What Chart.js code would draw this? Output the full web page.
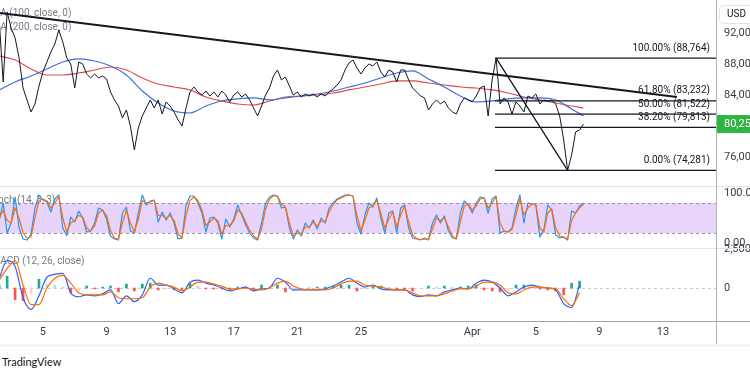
<!DOCTYPE html>
<html><head><meta charset="utf-8">
<script src="https://cdn.jsdelivr.net/npm/chart.js@4.4.1/dist/chart.umd.min.js"></script>
<style>
html,body{margin:0;padding:0;background:#fff;width:750px;height:375px;overflow:hidden}
canvas{position:absolute;left:0}
#c1{top:0}#c2{top:186px}#c3{top:240px}
#sep{position:absolute;left:0;top:344px;width:750px;height:3px;background:#f0f3fa}
#tv{position:absolute;left:2px;top:355px;font:11px Lato,sans-serif;color:#131722}
</style></head>
<body>
<canvas id="c1" width="750" height="186"></canvas>
<canvas id="c2" width="750" height="70"></canvas>
<canvas id="c3" width="750" height="104"></canvas>
<div id="sep"></div><div id="tv">TradingView</div>
<script>
// ---- data (day values: day of March, Apr 1 = 32) ----
const closeStartDay = 2.25, closeStepDays = 0.25;
const closes = [93680,85680,94710,92650,91360,88780,84910,83360,81810,82840,
85160,86970,88260,89550,90580,92390,90840,88780,88000,84910,
88260,88000,86710,86200,86710,86200,86450,86070,84390,83360,
82580,81040,82070,80000,76910,79750,81290,82330,83360,82330,
83360,81550,83100,82580,81810,80780,80000,82330,84390,85030,
84390,84000,84520,83870,84390,83740,84520,84000,83100,84000,
84390,83740,84130,83360,82330,81290,82580,84000,84910,86450,
87230,85940,86320,85160,84000,84390,83740,84130,83870,84130,
83740,84130,83870,84390,84780,85290,85940,87230,88130,88520,
87490,86710,87490,88000,87740,88260,86970,86320,87230,86970,
85680,87230,87230,85940,84910,84390,83870,83620,82070,82840,
83360,82840,83230,82330,81810,81550,82840,83620,83360,83100,
83870,84910,85160,81290,85940,88760,82840,83620,83100,81550,
83100,82580,81810,83870,83620,84130,82840,83360,83230,83360,
82840,81290,78200,74280,76260,79230,79490,80250];
const stochK = [45,80,20,40,92,30,8,6,18,70,96,86,82,62,88,96,30,15,52,42,
64,50,22,24,40,70,66,48,14,8,6,60,72,24,20,60,96,76,84,86,
42,62,46,60,40,8,10,76,94,94,80,60,22,50,52,40,8,48,32,48,
76,56,36,20,10,6,40,80,92,96,94,70,72,30,8,26,14,40,30,46,
28,50,40,70,80,88,92,96,96,94,40,18,56,80,72,90,50,20,60,64,
20,70,76,30,10,8,6,10,6,40,56,40,54,24,10,8,60,84,76,60,
80,92,90,60,88,94,20,24,22,30,70,96,40,80,78,76,12,26,76,66,
16,10,12,6,64,60,74,80];
const stochD = [50,65,45,40,70,50,20,10,12,50,85,88,84,70,80,92,50,22,40,45,
55,52,30,24,34,60,66,55,25,10,8,40,65,40,22,48,85,80,82,85,
55,55,50,55,45,18,10,55,85,92,85,66,35,42,50,45,18,35,35,44,
66,60,42,26,14,8,28,68,88,94,94,78,72,40,14,20,18,32,32,42,
34,44,42,62,76,86,90,94,96,94,55,25,45,70,74,85,60,30,48,62,
32,56,74,42,16,9,7,8,7,28,50,45,50,32,14,9,42,74,78,66,
74,88,90,70,80,92,40,24,22,27,56,88,56,70,78,77,30,22,60,68,
30,14,12,8,45,60,70,78];
const maStartDay = 2.25, maStepDays = 1, maEndDay = 39.0;
const ma100 = [84650,85680,86450,87360,88260,88650,88390,87740,86580,84520,
82970,81940,81680,82580,83230,83490,83620,83360,83620,83870,
84130,84520,85030,85550,86200,86840,87100,86070,85030,83870,
83100,83230,83490,83620,83620,83360,82200,81290];
const ma200 = [89030,88520,87360,86580,86580,86840,87230,87610,87230,86200,
85420,85030,84650,83740,83230,82840,82710,83230,83740,83870,
84000,84260,84650,85030,85420,85810,85810,85550,85290,85030,
84900,84650,84260,83740,83360,82970,82580,82320];
const macdStartDay = 2.25, macdStepDays = 0.5;
const macdLine = [625,1750,1375,-625,-1375,-500,690,875,940,-310,
-560,-440,-500,-375,-125,-1000,-500,-875,-440,625,
190,190,-60,-310,375,500,310,190,0,-190,
-60,60,-190,-60,0,625,375,-125,-125,-125,
-125,-60,125,375,625,310,60,190,-60,-125,
-125,-125,-440,-560,-440,-500,-250,-125,0,-60,
310,500,375,0,-500,-250,60,190,60,0,
-125,-1000,-1250,190];
const signalLine = [500,1250,1750,190,-1060,-1060,0,625,810,310,
-310,-440,-440,-440,-250,-625,-690,-690,-625,60,
310,190,60,-190,60,375,375,250,125,-60,
-60,0,-60,-125,0,310,440,125,-60,-125,
-125,-125,0,250,440,440,190,125,60,-60,
-125,-125,-310,-500,-500,-500,-375,-190,-60,-60,
125,375,375,190,-310,-375,-125,60,60,0,
-60,-690,-1125,-310];
const macdHist = [190,750,-750,-810,-375,560,250,190,60,-310,
-190,125,-60,60,125,-250,250,-190,250,310,
-125,-60,-125,-125,310,125,-60,-60,-60,-125,
60,60,-125,190,125,190,-250,-190,-60,0,
60,60,125,190,190,-190,-60,60,125,60,
-60,-125,-190,-60,125,60,125,60,60,125,
190,-125,-190,-250,-190,190,190,60,-60,-125,
-190,-440,310,440];
const fibStartDay = 33.43;
const fibLevels = [88764, 83232, 81522, 79813, 74281];
const fibRatios = ['100.00%', '61.80%', '50.00%', '38.20%', '0.00%'];
const fibDiagDays = [33.5, 38.0], fibDiagPrices = [88764, 74281];
const trendDays = [2.3, 44.87], trendPrices = [94580, 83740];
const lastPrice = 80250;
const priceTicks = [76000, 80000, 84000, 88000, 92000];
const stochTicks = [0, 100];
const macdTicks = [0, 2500];
const stochBand = [20, 80];
const xTickDays = [5, 9, 13, 17, 21, 25, 32, 36, 40, 44];
const xTickLabels = ['5', '9', '13', '17', '21', '25', 'Apr', '5', '9', '13'];
const maLegend = ['MA (100, close, 0)', 'MA (200, close, 0)'];
const stochLegend = 'Stoch (14, 3, 3)';
const macdLegend = 'MACD (12, 26, close)';

// ---- helpers ----
const X_MIN = 2.3, X_MAX = 47.33;
const FONT = 'Roboto';
const series = (arr, start, step) => arr.map((v, i) => ({x: start + i * step, y: v}));
const maSeries = arr => arr.map((v, k) => ({x: k < arr.length - 1 ? maStartDay + k * maStepDays : maEndDay, y: v}));
const fitY = s => { s.width = 34; s.paddingTop = 0; s.paddingBottom = 0; };
const yAxis = (min, max, ticks, cb) => ({
  position: 'right', min, max, afterFit: fitY,
  afterBuildTicks: s => { s.ticks = ticks.map(v => ({value: v})); },
  grid: {display: false, drawTicks: false}, border: {display: false},
  ticks: {padding: 8, autoSkip: false, font: {family: FONT, size: 11}, color: '#363a45', callback: cb}
});
const base = {responsive: false, animation: false, devicePixelRatio: 1,
  plugins: {legend: {display: false}, tooltip: {enabled: false}},
  elements: {point: {radius: 0}, line: {borderJoinStyle: 'round', tension: 0}}};
const fmt = v => Number(v).toLocaleString('en-US');
function vline(c, a, h, y0) { c.strokeStyle = '#b2b5be'; c.lineWidth = 1; c.beginPath(); c.moveTo(a.right + 0.5, y0); c.lineTo(a.right + 0.5, h); c.stroke(); }
function hline(c, y, col, w) { c.strokeStyle = col; c.lineWidth = 1; c.beginPath(); c.moveTo(0, y); c.lineTo(w, y); c.stroke(); }

// ---- price chart ----
const fibDatasets = fibLevels.map(lv => ({data: [{x: fibStartDay, y: lv}, {x: X_MAX, y: lv}], borderColor: '#131722', borderWidth: 1.2, order: 0}));
new Chart(document.getElementById('c1'), {
  type: 'line',
  data: {datasets: [
    {data: trendDays.map((d, i) => ({x: d, y: trendPrices[i]})), borderColor: '#131722', borderWidth: 2, order: 0},
    {data: fibDiagDays.map((d, i) => ({x: d, y: fibDiagPrices[i]})), borderColor: '#131722', borderWidth: 1.3, order: 0},
    ...fibDatasets,
    {data: series(closes, closeStartDay, closeStepDays), borderColor: '#131722', borderWidth: 1, order: 1},
    {data: maSeries(ma100), borderColor: '#3f6fd8', borderWidth: 1.2, cubicInterpolationMode: 'monotone', order: 2},
    {data: maSeries(ma200), borderColor: '#e04a4f', borderWidth: 1.2, cubicInterpolationMode: 'monotone', order: 3}
  ]},
  options: {...base, layout: {padding: 0},
    scales: {x: {type: 'linear', min: X_MIN, max: X_MAX, display: false, offset: false},
             y: yAxis(72258, 96258, priceTicks, v => fmt(v))}},
  plugins: [{id: 'pp',
    beforeDatasetsDraw(ch) { const c = ch.ctx; c.save(); c.font = '10px ' + FONT; c.fillStyle = '#787b86'; c.textBaseline = 'middle';
      c.fillText(maLegend[0], -8.5, 13); c.fillText(maLegend[1], -8.5, 27); c.restore(); },
    afterDatasetsDraw(ch) { const c = ch.ctx, y = ch.scales.y, a = ch.chartArea; c.save();
      c.font = '10px ' + FONT; c.fillStyle = '#131722'; c.textAlign = 'right'; c.textBaseline = 'middle';
      fibLevels.forEach((lv, k) => c.fillText(fibRatios[k] + ' (' + fmt(lv) + ')', a.right - 6, y.getPixelForValue(lv) - 10));
      c.restore(); },
    afterDraw(ch) { const c = ch.ctx, y = ch.scales.y, a = ch.chartArea; c.save();
      vline(c, a, ch.height, 0);
      const py = y.getPixelForValue(lastPrice);
      c.fillStyle = '#2fb344'; c.fillRect(a.right + 1, py - 9, 40, 18);
      c.fillStyle = '#fff'; c.font = '11px ' + FONT; c.textBaseline = 'middle'; c.fillText(fmt(lastPrice), a.right + 8, py + 0.5);
      c.strokeStyle = '#e0e3eb'; c.beginPath(); c.roundRect(719.5, 5.5, 40, 18, 4); c.stroke();
      c.fillStyle = '#131722'; c.font = '10px ' + FONT; c.fillText('USD', 727, 14.5);
      c.restore(); }
  }]
});

// ---- stochastic ----
new Chart(document.getElementById('c2'), {
  type: 'line',
  data: {datasets: [
    {data: series(stochD, closeStartDay, closeStepDays), borderColor: '#ff6d00', borderWidth: 1.2, order: 0},
    {data: series(stochK, closeStartDay, closeStepDays), borderColor: '#2196f3', borderWidth: 1.2, order: 1}
  ]},
  options: {...base, layout: {padding: {bottom: 8}},
    scales: {x: {type: 'linear', min: X_MIN, max: X_MAX, display: false, offset: false},
             y: yAxis(-10, 114, stochTicks, v => Number(v).toFixed(2))}},
  plugins: [{id: 'sp',
    beforeDatasetsDraw(ch) { const c = ch.ctx, a = ch.chartArea, y = ch.scales.y; c.save();
      const yt = Math.round(y.getPixelForValue(stochBand[1])), yb = Math.round(y.getPixelForValue(stochBand[0]));
      c.fillStyle = '#e8d4fa'; c.fillRect(a.left, yt, a.right - a.left, yb - yt);
      c.strokeStyle = '#9598a1'; c.setLineDash([3, 3]); c.lineWidth = 1;
      [yt, yb].forEach(v => { c.beginPath(); c.moveTo(a.left, v + 0.5); c.lineTo(a.right, v + 0.5); c.stroke(); });
      c.setLineDash([]);
      c.font = '10px ' + FONT; c.fillStyle = '#787b86'; c.textBaseline = 'middle'; c.fillText(stochLegend, -11, 14);
      c.restore(); },
    afterDraw(ch) { const c = ch.ctx, a = ch.chartArea; c.save(); hline(c, 0.5, '#e0e3eb', ch.width); vline(c, a, ch.height, 0); c.restore(); }
  }]
});

// ---- MACD ----
new Chart(document.getElementById('c3'), {
  type: 'line',
  data: {datasets: [
    {data: series(signalLine, macdStartDay, macdStepDays), borderColor: '#ff6d00', borderWidth: 1.2, cubicInterpolationMode: 'monotone', order: 0},
    {data: series(macdLine, macdStartDay, macdStepDays), borderColor: '#2962ff', borderWidth: 1.2, cubicInterpolationMode: 'monotone', order: 1},
    {type: 'bar', data: series(macdHist, macdStartDay, macdStepDays), barThickness: 2, grouped: false, order: 2,
     backgroundColor: ctx => { const i = ctx.dataIndex, v = macdHist[i], p = i > 0 ? macdHist[i - 1] : 0;
       if (v >= 0) return v >= p ? '#26a69a' : '#b2dfdb'; return v <= p ? '#ff5252' : '#ffcdd2'; }}
  ]},
  options: {...base, layout: {padding: {top: 8}},
    scales: {x: {type: 'linear', min: X_MIN, max: X_MAX, offset: false,
               afterBuildTicks: s => { s.ticks = xTickDays.map(v => ({value: v})); },
               afterFit: s => { s.height = 23; s.paddingLeft = 0; s.paddingRight = 0; },
               grid: {display: false, drawTicks: false, offset: false}, border: {display: false},
               ticks: {padding: 5, autoSkip: false, maxRotation: 0, font: {family: FONT, size: 11}, color: '#363a45',
                       callback: (v, i) => xTickLabels[i]}},
             y: yAxis(-2115, 2564, macdTicks, v => fmt(v))}},
  plugins: [{id: 'mp',
    beforeDatasetsDraw(ch) { const c = ch.ctx, a = ch.chartArea, y = ch.scales.y; c.save();
      const y0 = Math.round(y.getPixelForValue(0)) + 0.5;
      c.strokeStyle = '#c8cbd3'; c.setLineDash([3, 3]); c.lineWidth = 1; c.beginPath(); c.moveTo(a.left, y0); c.lineTo(a.right, y0); c.stroke(); c.setLineDash([]);
      c.font = '10px ' + FONT; c.fillStyle = '#787b86'; c.textBaseline = 'middle'; c.fillText(macdLegend, -8.5, 21);
      c.restore(); },
    afterDraw(ch) { const c = ch.ctx, a = ch.chartArea; c.save();
      hline(c, a.top + 0.5, '#e0e3eb', ch.width); hline(c, a.bottom + 0.5, '#a0a3ab', ch.width); vline(c, a, ch.height, a.top); c.restore(); }
  }]
});
</script>
</body></html>
